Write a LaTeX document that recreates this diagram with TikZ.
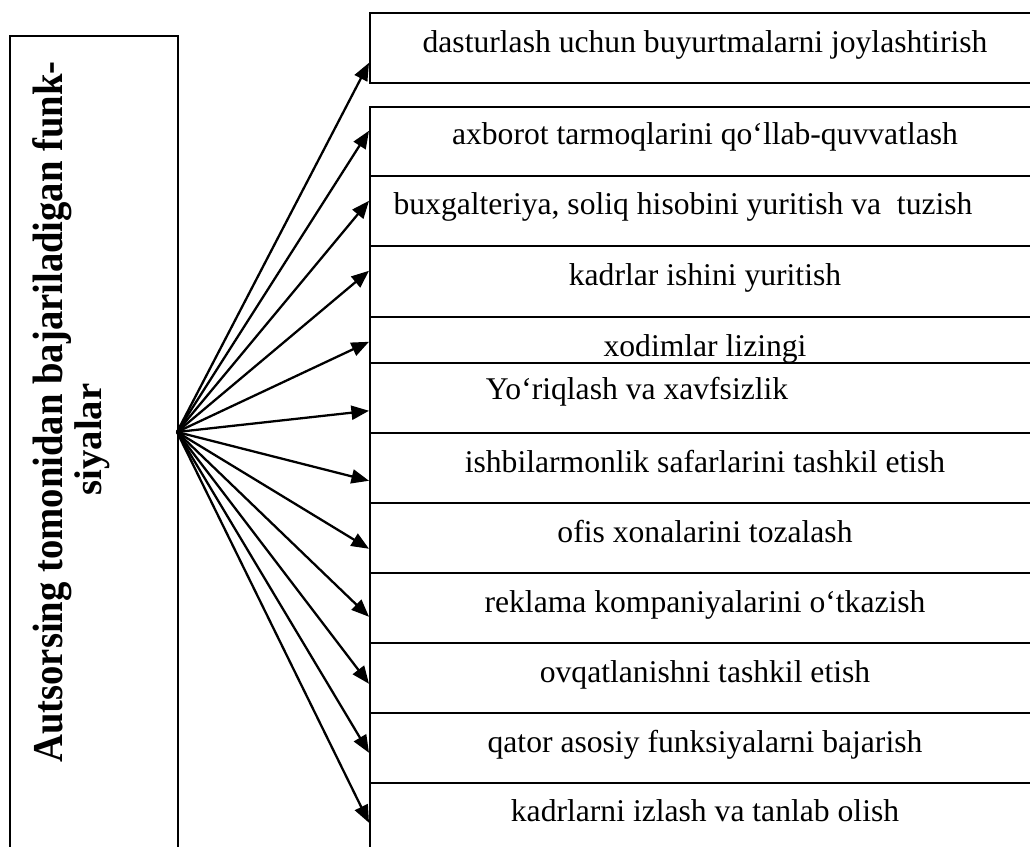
\documentclass[tikz,border=0pt]{standalone}
\usepackage{fontspec}
\setmainfont{Liberation Serif}
\usetikzlibrary{arrows.meta}

\begin{document}
\begin{tikzpicture}[x=0.02cm, y=-0.02cm,
  cell/.style={draw, fill=white, line width=0.9pt, minimum width=13.44cm, anchor=north west, inner sep=0pt},
  item/.style={anchor=base, inner sep=0pt, font=\fontsize{18}{20}\selectfont},
  fanarrow/.style={-{Triangle[length=10pt,width=8pt]}, line width=1.3pt}]
  \clip (0,0) rectangle (1030,847);
  % Left box with rotated title
  \node[draw, line width=0.9pt, anchor=north west, minimum width=3.36cm, minimum height=17cm, inner sep=0pt] (func) at (9,35) {};
  \node[rotate=90, align=center, font=\fontsize{22}{22}\selectfont\bfseries] (functxt) at (71,412) {\scalebox{1}[1.1]{Autsorsing tomonidan bajariladigan funk-}\\siyalar\hspace*{1.1cm}};
  \coordinate (hub) at (177,432);
  % Function boxes and arrows
  \foreach \n/\ytop/\hgt/\tx/\ty/\dy/\task in {
    fn0/12/1.4cm/705/53/-0.3cm/{dasturlash uchun buyurtmalarni joylashtirish},
    fn1/106/1.38cm/705/145/0.21cm/{axborot tarmoqlarini qo‘llab-quvvatlash},
    fn2/175/1.4cm/683/215/0.2cm/{buxgalteriya, soliq hisobini yuritish va~ tuzish},
    fn3/245/1.42cm/705/286/0.21cm/{kadrlar ishini yuritish},
    fn4/316/0.92cm/705/357/-0.04cm/{xodimlar lizingi},
    fn5/362/1.4cm/637/399/-0.26cm/{Yo‘riqlash va xavfsizlik},
    fn6/432/1.4cm/705/472/-0.26cm/{ishbilarmonlik safarlarini tashkil etish},
    fn7/502/1.4cm/705/542/-0.22cm/{ofis xonalarini tozalash},
    fn8/572/1.4cm/705/612/-0.18cm/{reklama kompaniyalarini o‘tkazish},
    fn9/642/1.4cm/705/682/-0.12cm/{ovqatlanishni tashkil etish},
    fn10/712/1.4cm/705/752/-0.1cm/{qator asosiy funksiyalarni bajarish},
    fn11/782/1.4cm/705/821/-0.1cm/{kadrlarni izlash va tanlab olish}} {
    \node[cell, minimum height=\hgt] (\n) at (369,\ytop) {};
    \node[item] (\n txt) at (\tx,\ty) {\task};
    \draw[fanarrow] (hub) -- ([yshift=\dy]\n.west);
  }
\end{tikzpicture}
\end{document}
